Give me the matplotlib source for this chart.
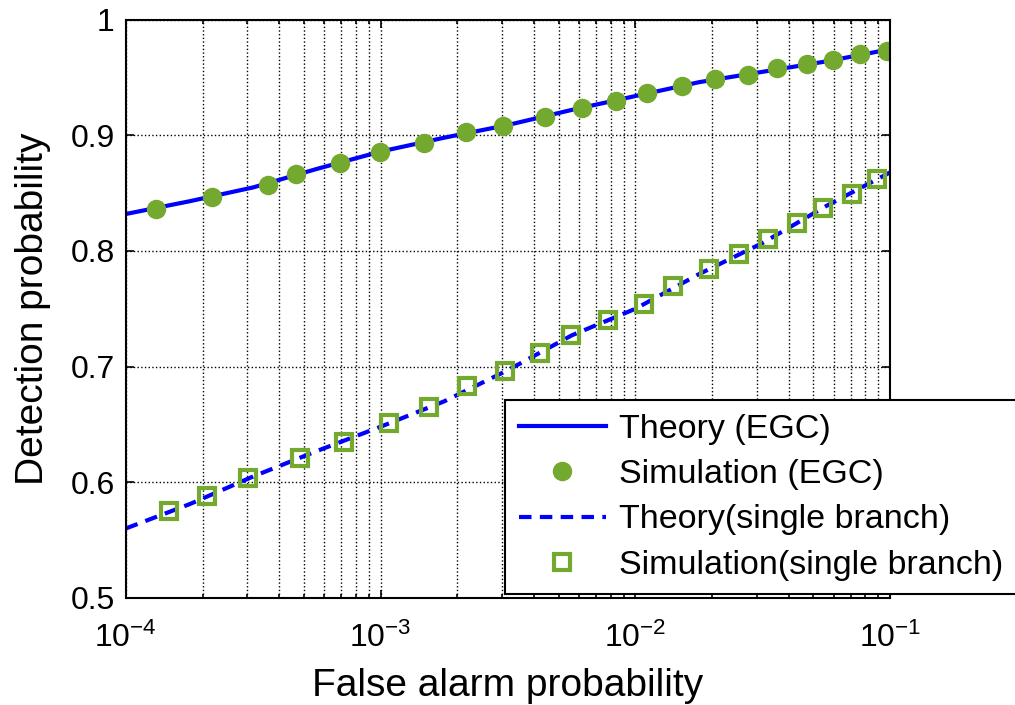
import matplotlib
matplotlib.use('Agg')
import matplotlib.pyplot as plt
import numpy as np

# simulated points (log10 of false alarm prob, detection prob)
egc_sim_logpf = [-3.883, -3.660, -3.444, -3.333, -3.159, -3.004, -2.830, -2.665, -2.520, -2.355, -2.208,
                 -2.077, -1.956, -1.818, -1.687, -1.559, -1.445, -1.325, -1.223, -1.118, -1.013]
egc_sim_pd = [0.836, 0.847, 0.857, 0.867, 0.876, 0.886, 0.893, 0.903, 0.908, 0.916, 0.924,
              0.930, 0.937, 0.943, 0.949, 0.952, 0.958, 0.962, 0.965, 0.970, 0.973]

single_sim_logpf = [-3.830, -3.681, -3.520, -3.317, -3.144, -2.966, -2.809, -2.659, -2.512, -2.375, -2.254,
                    -2.106, -1.966, -1.851, -1.710, -1.592, -1.478, -1.364, -1.265, -1.151, -1.053]
single_sim_pd = [0.575, 0.588, 0.604, 0.621, 0.635, 0.651, 0.665, 0.683, 0.696, 0.712, 0.727,
                 0.740, 0.754, 0.770, 0.784, 0.797, 0.810, 0.824, 0.837, 0.849, 0.862]

# theory curves
theory_logpf = [-4.0, -3.75, -3.5, -3.25, -3.0, -2.75, -2.5, -2.25, -2.0, -1.75, -1.5, -1.25, -1.0]
egc_theory_pd = [0.832, 0.843, 0.855, 0.871, 0.886, 0.898, 0.909, 0.922, 0.934, 0.946, 0.955, 0.964, 0.9745]
single_theory_pd = [0.560, 0.581, 0.605, 0.627, 0.648, 0.670, 0.697, 0.727, 0.750, 0.780, 0.807, 0.839, 0.868]

yticks = [0.5, 0.6, 0.7, 0.8, 0.9, 1.0]
ytick_labels = ['0.5', '0.6', '0.7', '0.8', '0.9', '1']

plt.rcParams['font.family'] = 'Liberation Sans'
plt.rcParams['mathtext.fontset'] = 'custom'
plt.rcParams['mathtext.rm'] = 'Liberation Sans'
plt.rcParams['mathtext.it'] = 'Liberation Sans'

green = '#74a92f'
blue = '#0000ff'

fig = plt.figure(figsize=(10.15, 7.05), dpi=100)
ax = fig.add_axes([0.124, 0.152, 0.753, 0.82])

ax.plot(10 ** np.array(theory_logpf), egc_theory_pd, '-', color=blue, lw=3, label='Theory (EGC)')
ax.plot(10 ** np.array(egc_sim_logpf), egc_sim_pd, 'o', color=green, ms=13, mec=green, ls='none',
        label='Simulation (EGC)')
ax.plot(10 ** np.array(theory_logpf), single_theory_pd, '--', color=blue, lw=3, dashes=(3, 2),
        label='Theory(single branch)')
ax.plot(10 ** np.array(single_sim_logpf), single_sim_pd, 's', mfc='none', mec=green, mew=3, ms=12,
        ls='none', label='Simulation(single branch)')

ax.set_xscale('log')
ax.set_xlim(1e-4, 1e-1)
ax.set_ylim(0.5, 1.0)
ax.set_yticks(yticks)
ax.set_yticklabels(ytick_labels)

ax.grid(which='major', color='black', linestyle=':', linewidth=1.0)
ax.grid(which='minor', axis='x', color='black', linestyle=':', linewidth=1.0)
ax.tick_params(which='both', direction='in', top=True, right=True, labelsize=23, width=1.2)
ax.tick_params(which='major', length=6)
ax.tick_params(axis='y', pad=8)
ax.tick_params(axis='x', pad=18)
ax.tick_params(which='minor', length=3)
for sp in ax.spines.values():
    sp.set_linewidth(1.5)

ax.set_xlabel('False alarm probability', fontsize=28, labelpad=10)
ax.set_ylabel('Detection probability', fontsize=28, labelpad=14)

leg = ax.legend(loc='lower right', bbox_to_anchor=(1.166, 0.006), borderaxespad=0,
                fontsize=24.5, fancybox=False, framealpha=1, edgecolor='black',
                handlelength=2.55, labelspacing=0.42, borderpad=0.4, handletextpad=0.4)
leg.get_frame().set_linewidth(1.5)

plt.savefig('out.png', dpi=100)
